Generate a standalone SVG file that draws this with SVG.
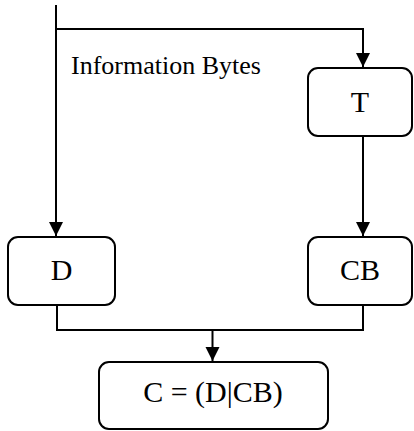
<svg xmlns="http://www.w3.org/2000/svg" width="414" height="431" viewBox="0 0 414 431">
  <defs>
    <marker id="arrow" viewBox="0 0 14 16" refX="14" refY="7" markerWidth="14" markerHeight="16" markerUnits="userSpaceOnUse" orient="auto">
      <path d="M0,0 L14,7 L0,14 Z" fill="#000"/>
    </marker>
    <style>
      .box { fill: #fff; stroke: #000; stroke-width: 2; }
      .wire { fill: none; stroke: #000; stroke-width: 2; }
      .lbl { font-family: "Liberation Serif", "Times New Roman", serif; fill: #000; }
      .big { font-size: 30px; text-anchor: middle; }
      .small { font-size: 26px; }
    </style>
  </defs>
  <rect width="414" height="431" fill="#fff"/>

  <g id="connectors">
    <!-- input bus down to D -->
    <path class="wire" d="M56,5 V236" marker-end="url(#arrow)"/>
    <!-- branch across to T -->
    <path class="wire" d="M56,29 H363 V67" marker-end="url(#arrow)"/>
    <!-- T to CB -->
    <path class="wire" d="M363,136 V236" marker-end="url(#arrow)"/>
    <!-- D and CB merge -->
    <path class="wire" d="M57,305 V330 H363 V305"/>
    <!-- merged into C -->
    <path class="wire" d="M212.5,330 V361" marker-end="url(#arrow)"/>
  </g>

  <text class="lbl small" x="71" y="74">Information Bytes</text>

  <g id="node-T">
    <rect class="box" x="308" y="68" width="104" height="68" rx="10"/>
    <text class="lbl big" x="360" y="112">T</text>
  </g>

  <g id="node-D">
    <rect class="box" x="8" y="237" width="107" height="68" rx="10"/>
    <text class="lbl big" x="61.5" y="280">D</text>
  </g>

  <g id="node-CB">
    <rect class="box" x="308" y="237" width="104" height="68" rx="10"/>
    <text class="lbl big" x="360" y="280">CB</text>
  </g>

  <g id="node-C">
    <rect class="box" x="99" y="362" width="229" height="67" rx="10"/>
    <text class="lbl big" x="213" y="402">C = (D|CB)</text>
  </g>
</svg>
